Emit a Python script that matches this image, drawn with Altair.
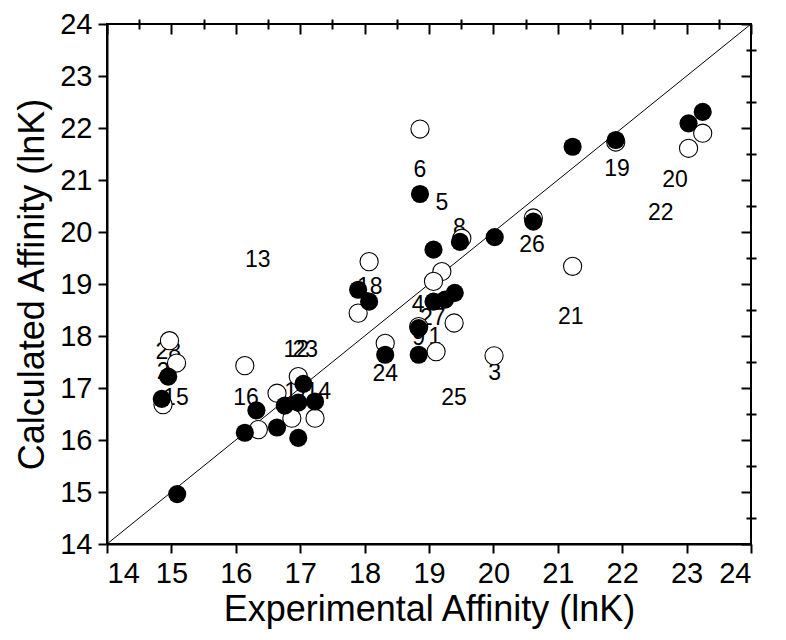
import altair as alt
import pandas as pd

# ---- data ----
filled_x = [15.09, 14.95, 14.85, 16.14, 16.32, 16.64, 16.76, 16.97, 17.05, 16.97, 17.23,
            17.90, 18.07, 19.07, 19.25, 19.40, 18.84, 18.32, 18.84, 19.07, 19.48,
            18.86, 20.02, 20.62, 21.23, 21.90, 23.03, 23.25]
filled_y = [14.96, 17.22, 16.79, 16.14, 16.57, 16.24, 16.66, 16.04, 17.08, 16.72, 16.74,
            18.89, 18.66, 18.66, 18.70, 18.83, 18.15, 17.64, 17.64, 19.66, 19.81,
            20.73, 19.90, 20.20, 21.64, 21.77, 22.09, 22.31]

open_x = [14.97, 15.08, 14.87, 16.14, 16.64, 16.97, 16.87, 16.35, 17.23,
          18.07, 17.90, 19.20, 19.07, 18.84, 19.39, 18.32, 19.11,
          18.86, 21.23, 20.01, 19.51, 20.62, 21.90, 23.25, 23.03]
open_y = [17.91, 17.48, 16.68, 17.43, 16.90, 17.22, 16.42, 16.20, 16.42,
          19.43, 18.44, 19.24, 19.05, 18.18, 18.25, 17.86, 17.70,
          21.98, 19.34, 17.62, 19.88, 20.27, 21.73, 21.90, 21.61]

label_text = ["6", "5", "8", "26", "19", "20", "22", "13", "21", "18", "4", "27",
              "9", "1", "24", "25", "3", "28", "2", "15", "16", "12", "23", "17", "14"]
label_x = [18.86, 19.20, 19.47, 20.60, 21.92, 22.82, 22.60, 16.34, 21.20, 18.08, 18.83, 19.06,
           18.84, 19.09, 18.32, 19.39, 20.02, 14.95, 14.87, 15.07, 16.16, 16.94, 17.08, 16.95, 17.28]
label_y = [21.20, 20.56, 20.08, 19.75, 21.21, 21.00, 20.37, 19.46, 18.37, 18.95, 18.60, 18.35,
           17.97, 17.99, 17.26, 16.81, 17.29, 17.70, 17.31, 16.81, 16.81, 17.74, 17.74, 16.93, 16.93]

diag = [14, 24]
major_ticks = list(range(14, 25))
minor_ticks = [v + 0.5 for v in range(14, 24)]

FONT = "Liberation Sans"

filled_df = pd.DataFrame({"x": filled_x, "y": filled_y})
open_df = pd.DataFrame({"x": open_x, "y": open_y})
label_df = pd.DataFrame({"t": label_text, "x": label_x, "y": label_y})
diag_df = pd.DataFrame({"x": diag, "y": diag})

xs = alt.Scale(domain=[14, 24], nice=False, zero=False)
ys = alt.Scale(domain=[14, 24], nice=False, zero=False)

# Layer A: diagonal with the main labelled axes
ax_x_main = alt.Axis(values=major_ticks, tickSize=9, tickWidth=2, tickColor="black",
                     domainColor="black", domainWidth=2, labelFontSize=29, labelFont=FONT,
                     labelColor="black", labelPadding=6, titleFont=FONT, titleFontSize=36,
                     titleFontWeight="normal", titleColor="black", titlePadding=4, grid=False)
ax_y_main = alt.Axis(values=major_ticks, tickSize=9, tickWidth=2, tickColor="black",
                     domainColor="black", domainWidth=2, labelFontSize=29, labelFont=FONT,
                     labelColor="black", labelPadding=6, titleFont=FONT, titleFontSize=36,
                     titleFontWeight="normal", titleColor="black", titlePadding=8, grid=False)

line = alt.Chart(diag_df).mark_line(color="black", strokeWidth=1).encode(
    x=alt.X("x:Q", scale=xs, axis=ax_x_main, title="Experimental Affinity (lnK)"),
    y=alt.Y("y:Q", scale=ys, axis=ax_y_main, title="Calculated Affinity (lnK)"),
)

# Layer B: text labels + bottom/left minor ticks
ax_minor_b = alt.Axis(values=minor_ticks, tickSize=5, tickWidth=2, tickColor="black",
                      labels=False, domain=False, grid=False, title=None)
ax_minor_l = alt.Axis(values=minor_ticks, tickSize=5, tickWidth=2, tickColor="black",
                      labels=False, domain=False, grid=False, title=None)
texts = alt.Chart(label_df).mark_text(font=FONT, fontSize=23, color="black",
                                      align="center", baseline="middle").encode(
    x=alt.X("x:Q", scale=xs, axis=ax_minor_b),
    y=alt.Y("y:Q", scale=ys, axis=ax_minor_l),
    text="t:N",
)

# Layer C: open circles + top/right inward major ticks
ax_top_major = alt.Axis(orient="top", values=major_ticks, tickSize=10, tickWidth=2, offset=-10,
                        tickColor="black", labels=False, domain=False, grid=False, title=None)
ax_right_major = alt.Axis(orient="right", values=major_ticks, tickSize=10, tickWidth=2, offset=-10,
                          tickColor="black", labels=False, domain=False, grid=False, title=None)
opens = alt.Chart(open_df).mark_point(shape="circle", filled=True, fill="white", stroke="black",
                                      strokeWidth=1.1, size=330, opacity=1).encode(
    x=alt.X("x:Q", scale=xs, axis=ax_top_major),
    y=alt.Y("y:Q", scale=ys, axis=ax_right_major),
)

# Layer D: filled circles + top/right inward minor ticks
ax_top_minor = alt.Axis(orient="top", values=minor_ticks, tickSize=5, tickWidth=2, offset=-5,
                        tickColor="black", labels=False, domain=False, grid=False, title=None)
ax_right_minor = alt.Axis(orient="right", values=minor_ticks, tickSize=5, tickWidth=2, offset=-5,
                          tickColor="black", labels=False, domain=False, grid=False, title=None)
fills = alt.Chart(filled_df).mark_circle(color="black", size=330, opacity=1).encode(
    x=alt.X("x:Q", scale=xs, axis=ax_top_minor),
    y=alt.Y("y:Q", scale=ys, axis=ax_right_minor),
)

chart = alt.layer(line, texts, opens, fills).resolve_axis(
    x="independent", y="independent"
).properties(
    width=644, height=520,
    autosize=alt.AutoSizeParams(type="none"),
    padding={"left": 99, "top": 16, "right": 27, "bottom": 88},
    background="white",
).configure_view(stroke="black", strokeWidth=2)

chart.save("out.html", embed_options={"renderer": "svg", "actions": False})
